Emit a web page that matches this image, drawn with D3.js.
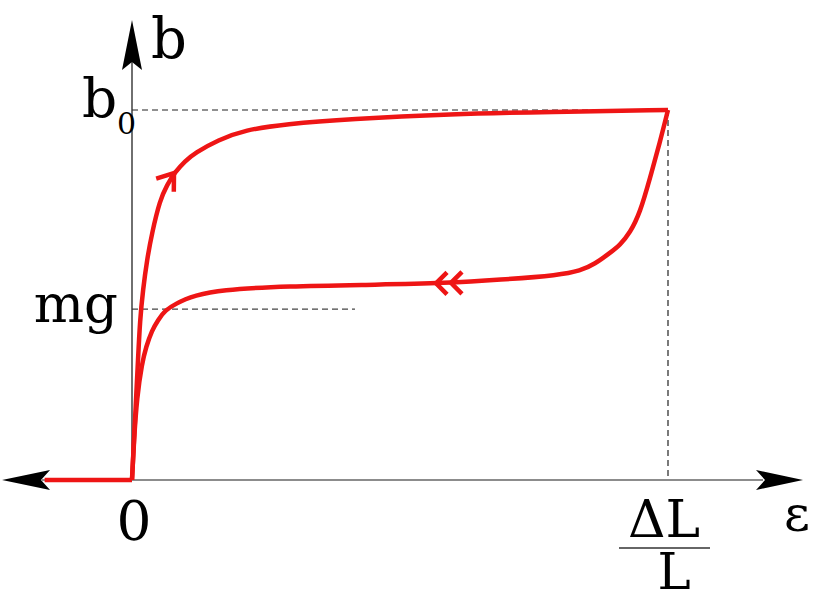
<!DOCTYPE html>
<html>
<head>
<meta charset="utf-8">
<script src="https://cdn.jsdelivr.net/npm/d3@7"></script>
<style>
  html, body { margin: 0; padding: 0; background: #fff; }
  svg { display: block; }
  text { font-family: "DejaVu Serif", serif; fill: #000; }
</style>
</head>
<body>
<svg id="chart" width="814" height="600"></svg>
<script>
// ---- data (ε in units of ΔL/L, b in units of b0) ----
const loadEps   = [0, 0.0037, 0.0075, 0.0112, 0.0149, 0.0205, 0.028, 0.0373, 0.0522, 0.0653, 0.0802, 0.0989, 0.1175, 0.1604, 0.2108, 0.2854, 0.4067, 0.5933, 0.7799, 1];
const loadB     = [0, 0.108, 0.216, 0.324, 0.432, 0.514, 0.595, 0.668, 0.757, 0.797, 0.832, 0.862, 0.884, 0.919, 0.946, 0.962, 0.976, 0.989, 0.995, 1];
const unloadEps = [0, 0.0037, 0.0093, 0.0187, 0.0261, 0.0373, 0.0485, 0.0616, 0.084, 0.1007, 0.1138, 0.1642, 0.2854, 0.4627, 0.584, 0.6866, 0.7985, 0.8358, 0.8638, 0.8918, 0.9104, 0.9291, 0.9478, 0.9664, 0.9851, 1];
const unloadB   = [0, 0.108, 0.224, 0.316, 0.359, 0.405, 0.432, 0.459, 0.478, 0.489, 0.497, 0.514, 0.524, 0.528, 0.532, 0.541, 0.554, 0.565, 0.584, 0.614, 0.635, 0.668, 0.722, 0.816, 0.914, 1];
const restEps   = [-0.163, 0];
const restB     = [0, 0];
const mgLevel   = 0.462;
const b0Level   = 1;
const xTickLabels = ["0", "ΔL", "L"];
const yTickLabels = ["mg", "b", "0"];
const axisLabels  = ["b", "ε"];
const arrowUpEps  = 0.0802;
const arrowDownEps = [0.5672, 0.5951];

// ---- scales ----
const x = d3.scaleLinear().domain([0, 1]).range([132, 668]);
const y = d3.scaleLinear().domain([0, 1]).range([480, 110]);
const xMin = -0.2425, xMax = 1.2519, yMax = 1.2432;

const svg = d3.select("#chart");
const red = "#ee1515";
const lw = 4.5;

// ---- dashed guides ----
const dash = svg.append("g").attr("stroke", "#222").attr("stroke-width", 1.2).attr("stroke-dasharray", "6,4").attr("fill", "none");
dash.append("line").attr("x1", x(0)).attr("x2", x(1)).attr("y1", y(b0Level)).attr("y2", y(b0Level));
dash.append("line").attr("x1", x(1)).attr("x2", x(1)).attr("y1", y(b0Level)).attr("y2", y(0));
dash.append("line").attr("x1", x(0)).attr("x2", x(0.416)).attr("y1", y(mgLevel)).attr("y2", y(mgLevel)).attr("stroke", "#444");

// ---- axes ----
svg.append("line").attr("x1", x(xMin) + 40).attr("x2", x(xMax) - 40).attr("y1", y(0)).attr("y2", y(0))
  .attr("stroke", "#666").attr("stroke-width", 1.6);
svg.append("line").attr("x1", x(0)).attr("x2", x(0)).attr("y1", y(0)).attr("y2", y(yMax) + 40)
  .attr("stroke", "#333").attr("stroke-width", 1.4);

// arrowheads (concave)
function arrowHead(tx, ty, angle, len, half, notch) {
  const pts = [[0, 0], [-len, -half], [-len + notch, 0], [-len, half]];
  const c = Math.cos(angle), s = Math.sin(angle);
  return "M" + pts.map(p => [tx + p[0] * c - p[1] * s, ty + p[0] * s + p[1] * c].join(",")).join("L") + "Z";
}
svg.append("path").attr("d", arrowHead(x(0), y(yMax), -Math.PI / 2, 50, 10, 8)).attr("fill", "#000");
svg.append("path").attr("d", arrowHead(x(xMax), y(0), 0, 47, 10, 9)).attr("fill", "#000");
svg.append("path").attr("d", arrowHead(x(xMin), y(0), Math.PI, 48, 10, 9)).attr("fill", "#000");

// ---- curves ----
const line = d3.line().x(d => x(d[0])).y(d => y(d[1])).curve(d3.curveBasis);
const loadPts = loadEps.map((e, i) => [e, loadB[i]]);
const unloadPts = unloadEps.map((e, i) => [e, unloadB[i]]);
const restPts = restEps.map((e, i) => [e, restB[i]]);
const curves = svg.append("g").attr("fill", "none").attr("stroke", red).attr("stroke-width", lw)
  .attr("stroke-linejoin", "round");
curves.append("path").attr("d", d3.line().x(d => x(d[0])).y(d => y(d[1]))(restPts));
curves.append("path").attr("d", line(loadPts));
curves.append("path").attr("d", line(unloadPts));

// chevrons
function chevron(px, py, angle, len, half) {
  const c = Math.cos(angle), s = Math.sin(angle);
  const pt = (a, b) => [px + a * c - b * s, py + a * s + b * c].join(",");
  return "M" + pt(-len, -half) + "L" + pt(0, 0) + "L" + pt(-len, half);
}
// upward arrow on loading branch
(function () {
  const i = loadEps.indexOf(arrowUpEps);
  const p0 = loadPts[i - 1], p1 = loadPts[i + 1];
  const ang = Math.atan2(y(p1[1]) - y(p0[1]), x(p1[0]) - x(p0[0]));
  svg.append("path").attr("d", chevron(x(arrowUpEps) - 1, y(loadB[i]) + 1, ang, 15, 11))
    .attr("fill", "none").attr("stroke", red).attr("stroke-width", lw).attr("stroke-linejoin", "miter");
})();
// double arrow on unloading branch (pointing left)
const lowInterp = e => {
  for (let k = 0; k < unloadEps.length - 1; k++) {
    if (e >= unloadEps[k] && e <= unloadEps[k + 1]) {
      const t = (e - unloadEps[k]) / (unloadEps[k + 1] - unloadEps[k]);
      return unloadB[k] + t * (unloadB[k + 1] - unloadB[k]);
    }
  }
  return 0;
};
arrowDownEps.forEach(e => {
  svg.append("path").attr("d", chevron(x(e), y(lowInterp(e)), Math.PI, 11, 11))
    .attr("fill", "none").attr("stroke", red).attr("stroke-width", lw).attr("stroke-linejoin", "miter");
});

// ---- labels ----
svg.append("text").attr("x", x(0) + 19).attr("y", y(yMax) + 38).attr("font-size", 56).text(axisLabels[0]);
svg.append("text").attr("x", x(xMax) - 19).attr("y", y(0) + 51).attr("font-size", 50).text(axisLabels[1]);

// y tick labels
svg.append("text").attr("x", x(0) - 14).attr("y", y(mgLevel) + 13).attr("text-anchor", "end").attr("font-size", 53).text(yTickLabels[0]);
svg.append("text").attr("x", x(0) - 50).attr("y", y(b0Level) + 7).attr("font-size", 55).text(yTickLabels[1]);
svg.append("text").attr("x", x(0) - 15).attr("y", y(b0Level) + 24).attr("font-size", 30).text(yTickLabels[2]);

// x tick labels
svg.append("text").attr("x", x(0) + 2).attr("y", y(0) + 60).attr("text-anchor", "middle").attr("font-size", 55).text(xTickLabels[0]);
svg.append("text").attr("x", x(1) - 4).attr("y", y(0) + 57).attr("text-anchor", "middle").attr("font-size", 52).text(xTickLabels[1]);
svg.append("line").attr("x1", x(1) - 49).attr("x2", x(1) + 42).attr("y1", y(0) + 68).attr("y2", y(0) + 68)
  .attr("stroke", "#666").attr("stroke-width", 2);
svg.append("text").attr("x", x(1) + 6).attr("y", y(0) + 109).attr("text-anchor", "middle").attr("font-size", 50).text(xTickLabels[2]);
</script>
</body>
</html>
